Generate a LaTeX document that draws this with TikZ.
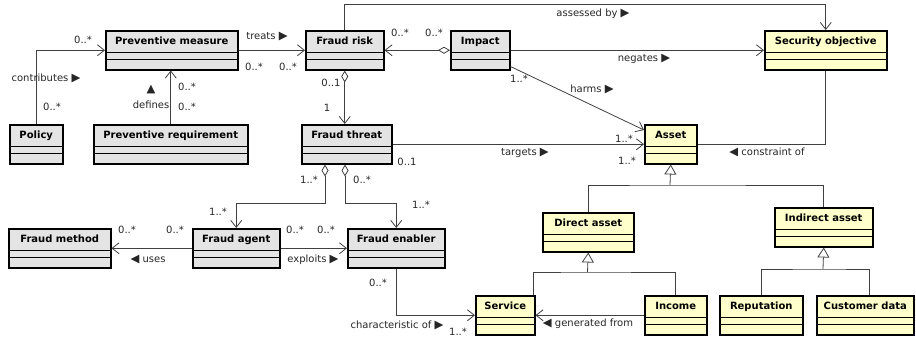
\documentclass[tikz,border=0pt]{standalone}
\usepackage{fontspec}
\setmainfont{DejaVu Sans}
\usetikzlibrary{arrows.meta}
\definecolor{fraudgray}{RGB}{228,228,228}
\definecolor{assetyellow}{RGB}{255,255,204}
\newcommand\rtri{{\fontsize{11.5}{11}\selectfont ▶}}
\newcommand\ltri{{\fontsize{11.5}{11}\selectfont ◀}}
\newcommand\utri{{\fontsize{11.5}{11}\selectfont ▲}}
\tikzset{
  cls/.style={draw, line width=1.5pt, anchor=north west, inner sep=0pt,
    text height=14pt, text depth=25pt, minimum height=39pt,
    font=\fontsize{10}{12}\selectfont\bfseries,
    path picture={
      \draw[line width=0.8pt] ([yshift=-22pt]path picture bounding box.north west) -- ([yshift=-22pt]path picture bounding box.north east);
      \draw[line width=0.8pt] ([yshift=-29pt]path picture bounding box.north west) -- ([yshift=-29pt]path picture bounding box.north east);}},
  fraudcls/.style={cls, fill=fraudgray},
  assetcls/.style={cls, fill=assetyellow},
  lbl/.style={inner sep=0pt, font=\fontsize{10}{11}\selectfont, text=black!85},
  assoc/.style={line width=0.8pt, draw=black!75},
  nav/.style={assoc, -{Straight Barb[length=7pt,width=11pt]}},
  aggr/.style={assoc, {Diamond[fill=white,length=12pt,width=7pt]}-{Straight Barb[length=7pt,width=11pt]}},
  gen/.style={assoc, -{Triangle[fill=white,length=10pt,width=12pt]}},
}

\begin{document}
\begin{tikzpicture}[x=1pt, y=-1pt]
  \useasboundingbox (0,0) rectangle (916,341);
  % fraud side
  \node[fraudcls, minimum width=132pt] (pm) at (105,30) {Preventive measure};
  \node[fraudcls, minimum width=53pt] (pol) at (9,124) {Policy};
  \node[fraudcls, minimum width=154pt] (pr) at (93,124) {Preventive requirement};
  \node[fraudcls, minimum width=78pt] (fr) at (305,30) {Fraud risk};
  \node[fraudcls, minimum width=59pt] (imp) at (450,30) {Impact};
  \node[fraudcls, minimum width=90pt] (ft) at (301,124) {Fraud threat};
  \node[fraudcls, minimum width=102pt] (fm) at (8,228) {Fraud method};
  \node[fraudcls, minimum width=87pt] (fa) at (192,228) {Fraud agent};
  \node[fraudcls, minimum width=97pt] (fe) at (347,228) {Fraud enabler};
  % asset side
  \node[assetcls, minimum width=122pt] (so) at (764,30) {Security objective};
  \node[assetcls, minimum width=52pt] (asset) at (644,124) {Asset};
  \node[assetcls, minimum width=91pt] (da) at (542,212) {Direct asset};
  \node[assetcls, minimum width=98pt] (ia) at (774,207) {Indirect asset};
  \node[assetcls, minimum width=59pt] (srv) at (475,295) {Service};
  \node[assetcls, minimum width=62pt] (inc) at (644,295) {Income};
  \node[assetcls, minimum width=83pt] (rep) at (719,295) {Reputation};
  \node[assetcls, minimum width=97pt] (cd) at (816,295) {Customer data};

  % associations
  \draw[nav] (pol.north) |- (pm.west);
  \node[lbl] (contrib1) at (83,40) {0..*};
  \node[lbl] (contribl) at (46,78) {contributes \rtri};
  \node[lbl] (contrib2) at (52,107) {0..*};

  \draw[nav] (pr.north) -- (pr.north |- pm.south);
  \node[lbl, align=center, font=\fontsize{10}{16}\selectfont] (defl) at (151,97) {\utri\\defines};
  \node[lbl] (def1) at (187,87) {0..*};
  \node[lbl] (def2) at (187,107) {0..*};

  \draw[nav] (pm.east) -- (fr.west);
  \node[lbl] (treatsl) at (267,37) {treats \rtri};
  \node[lbl] (treats1) at (254,67) {0..*};
  \node[lbl] (treats2) at (288,67) {0..*};

  \draw[nav] (fr.north) |- ([yshift=26pt]so.north) -- (so.north);
  \node[lbl] (assessl) at (593,14) {assessed by \rtri};

  \draw[aggr] (imp.west) -- (fr.east);
  \node[lbl] (risk1) at (400,33) {0..*};
  \node[lbl] (risk2) at (434,33) {0..*};

  \draw[nav] (imp.east) -- (so.west);
  \node[lbl] (negl) at (644,59) {negates \rtri};

  \draw[nav] ([yshift=4pt]imp.south east) -- ([yshift=-6pt]asset.north west);
  \node[lbl] (harms1) at (519,79) {1..*};
  \node[lbl] (harmsl) at (592,89) {harms \rtri};
  \node[lbl] (harms2) at (624,139) {1..*};

  \draw[nav] (ft.east) -- (asset.west);
  \node[lbl] (targl) at (525,153) {targets \rtri};
  \node[lbl] (targ1) at (407,162) {0..1};
  \node[lbl] (targ2) at (627,161) {1..*};

  \draw[assoc] (so.south) |- (asset.east);
  \node[lbl] (consl) at (767,152) {\ltri\ constraint of};

  \draw[aggr] (fr.south) -- (fr.south |- ft.north);
  \node[lbl] (thr1) at (331,83) {0..1};
  \node[lbl] (thr2) at (327,108) {1};

  \draw[aggr] ([xshift=24pt]ft.south west) |- ([yshift=25pt]fa.north) -- (fa.north);
  \node[lbl] (ag1) at (309,180) {1..*};
  \node[lbl] (ag2) at (218,212) {1..*};

  \draw[aggr] ([xshift=44pt]ft.south west) |- ([yshift=25pt]fe.north) -- (fe.north);
  \node[lbl] (en1) at (362,180) {0..*};
  \node[lbl] (en2) at (421,205) {1..*};

  \draw[nav] (fa.west) -- (fm.east);
  \node[lbl] (uses1) at (127,230) {0..*};
  \node[lbl] (uses2) at (175,230) {0..*};
  \node[lbl] (usesl) at (148,260) {\ltri\ uses};

  \draw[nav] (fa.east) -- (fe.west);
  \node[lbl] (expl1) at (295,230) {0..*};
  \node[lbl] (expl2) at (326,230) {0..*};
  \node[lbl] (expll) at (313,260) {exploits \rtri};

  \draw[nav] (fe.south) |- (srv.west);
  \node[lbl] (char1) at (378,283) {0..*};
  \node[lbl] (charl) at (397,325) {characteristic of \rtri};
  \node[lbl] (char2) at (458,332) {1..*};

  \draw[nav] (inc.west) -- (srv.east);
  \node[lbl] (genl) at (588,324) {\ltri\ generated from};

  % generalisations
  \coordinate (ajoin) at (670,185);
  \draw[assoc] (da.north) |- (ajoin) -| (ia.north);
  \draw[gen] (ajoin) -- (asset.south);
  \coordinate (djoin) at (587.5,272);
  \draw[assoc] ([xshift=-2pt]srv.north east) |- (djoin) -| (inc.north);
  \draw[gen] (djoin) -- (da.south);
  \coordinate (ijoin) at (823,269);
  \draw[assoc] (rep.north) |- (ijoin) -| ([xshift=4pt]cd.north);
  \draw[gen] (ijoin) -- (ia.south);
\end{tikzpicture}
\end{document}
